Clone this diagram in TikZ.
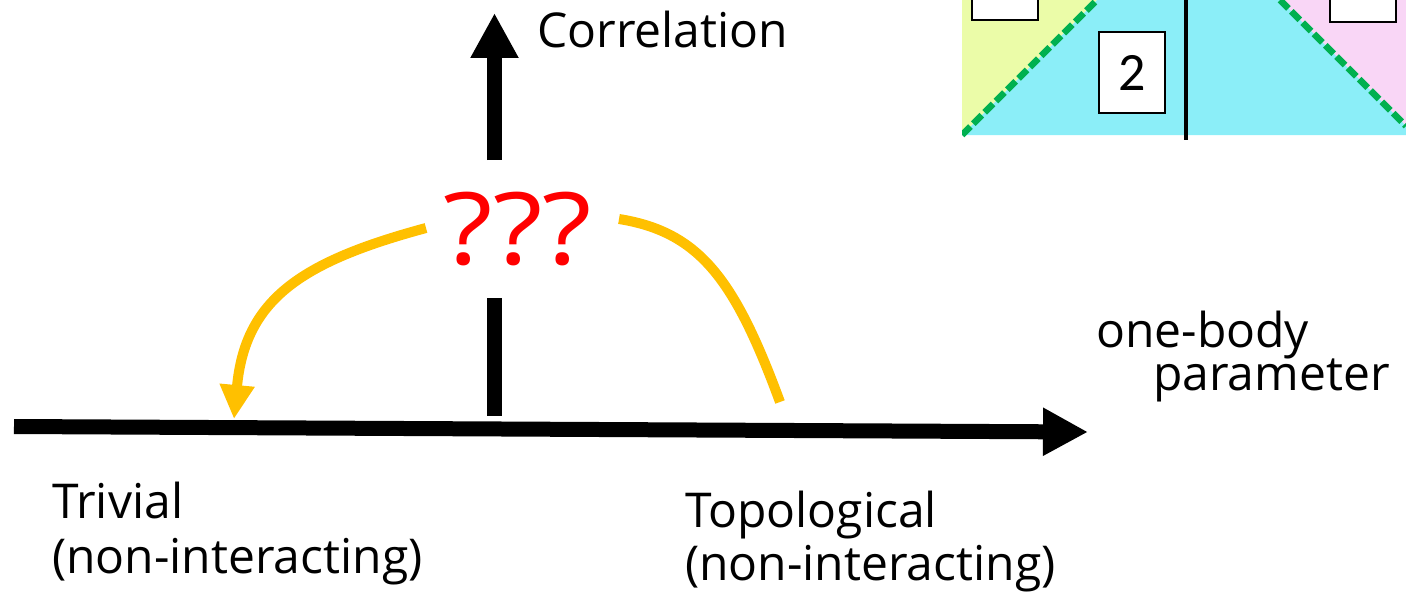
\documentclass[tikz,border=0pt]{standalone}
\usepackage{fontspec}
\setmainfont{Open Sans}
\newfontfamily\boxfont{Carlito}
\usetikzlibrary{arrows.meta}
\definecolor{gold}{HTML}{FFC000}
\definecolor{zyellow}{RGB}{235,252,168}
\definecolor{zcyan}{RGB}{139,238,248}
\definecolor{zpink}{RGB}{249,214,246}
\definecolor{zgreen}{RGB}{0,176,80}
\tikzset{
  lbl/.style={anchor=base west, inner sep=0pt, font=\fontsize{48}{54}\selectfont},
  axis/.style={line width=15pt, -{Triangle[length=45pt,width=45pt]}},
  flow/.style={draw=gold, line width=10pt},
  numbox/.style={draw=black, line width=2pt, fill=white, minimum width=66pt, minimum height=81pt, inner sep=0pt, font=\boxfont\fontsize{54}{54}\selectfont},
  border/.style={dash pattern=on 12pt off 4pt, draw=zgreen, line width=6.5pt}
}
\begin{document}
\begin{tikzpicture}[x=1pt,y=-1pt]
\useasboundingbox (0,0) rectangle (1406,602);
% inset (phase diagram fragment)
\begin{scope}
\clip (962,0) rectangle (1406,142);
\fill[zyellow] (962,0) -- (1097,0) -- (962,135) -- cycle;
\fill[zpink] (1280,0) -- (1406,0) -- (1406,126) -- cycle;
\fill[zcyan] (1097,0) -- (1280,0) -- (1406,126) -- (1406,135) -- (962,135) -- cycle;
\draw[border] (962,135) -- (1097,0);
\draw[border] (1280,0) -- (1406,126);
\draw[line width=4.5pt] (1186,0) -- (1186,140);
\node[numbox] (b1) at (1004.5,-20) {};
\node[numbox] (b3) at (1362.5,-18) {};
\end{scope}
\node[numbox] (b2) at (1132,72.5) {2};
% axes
\coordinate (hx0) at (14,426.5);
\coordinate (hx1) at (1088,432);
\coordinate (vy0) at (494.5,160);
\coordinate (vy1) at (494.5,13);
\coordinate (vs0) at (494.5,298);
\coordinate (vs1) at (494.5,416);
\draw[axis] (hx0) -- (hx1);
\draw[axis] (vy0) -- (vy1);
\draw[line width=15pt] (vs0) -- (vs1);
% labels
\node[lbl] (corr) at (537,48) {Correlation};
\node[lbl] (ob1) at (1096,347) {one-body};
\node[lbl] (ob2) at (1153,390) {parameter};
\node[lbl] (tr1) at (52,518) {Trivial};
\node[lbl] (tr2) at (52,573) {(non-interacting)};
\node[lbl] (tp1) at (685,527) {Topological};
\node[lbl] (tp2) at (685,580) {(non-interacting)};
\node[anchor=base, inner sep=0pt, text=red, font=\fontsize{100}{100}\selectfont] (q) at (518,264) {\scalebox{1.15}[1]{???}};
% yellow flows
\coordinate (l0) at (426,228);
\coordinate (l1) at (234,419);
\coordinate (r0) at (619,219);
\coordinate (r1) at (780,402);
\draw[flow, -{Triangle[length=34pt,width=33pt]}] (l0) .. controls (300,262) and (245,300) .. (l1);
\draw[flow] (r0) .. controls (700,232) and (735,280) .. (r1);
\end{tikzpicture}
\end{document}
